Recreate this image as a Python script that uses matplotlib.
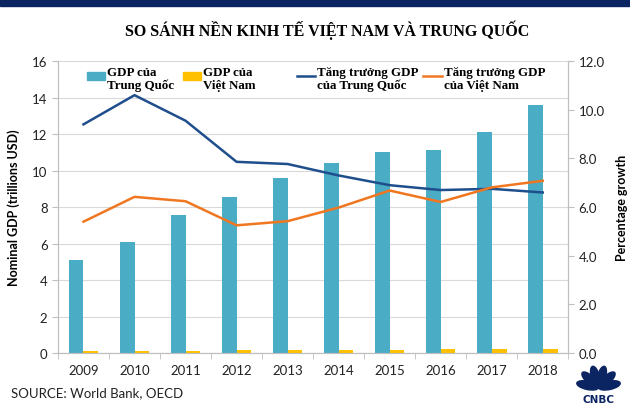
import matplotlib

matplotlib.use("Agg")
import matplotlib.pyplot as plt
import numpy as np
from matplotlib.patches import Rectangle, Ellipse
from matplotlib.lines import Line2D

YEARS = ["2009", "2010", "2011", "2012", "2013", "2014", "2015", "2016", "2017", "2018"]
GDP_CHINA = [5.1, 6.09, 7.55, 8.53, 9.57, 10.44, 11.02, 11.14, 12.14, 13.61]
GDP_VIETNAM = [0.106, 0.116, 0.135, 0.156, 0.171, 0.186, 0.193, 0.205, 0.224, 0.245]
GROWTH_CHINA = [9.4, 10.6, 9.55, 7.86, 7.77, 7.3, 6.9, 6.7, 6.75, 6.6]
GROWTH_VIETNAM = [5.4, 6.42, 6.24, 5.25, 5.42, 5.98, 6.68, 6.21, 6.81, 7.08]

C_CHINA_BAR = "#4BACC6"
C_VN_BAR = "#FFC000"
C_CHINA_LINE = "#1F4E8C"
C_VN_LINE = "#F07620"
NAVY = "#0B2462"
SERIF = "Liberation Serif"
SANS = ["Lato", "DejaVu Sans"]

fig = plt.figure(figsize=(6.3, 4.06), dpi=100)
fig.patches.append(Rectangle((0, 0.982), 1, 0.018, transform=fig.transFigure, color=NAVY, zorder=0))
fig.text(0.519, 0.925, "SO SÁNH NỀN KINH TẾ VIỆT NAM VÀ TRUNG QUỐC", family=SERIF,
         weight="bold", fontsize=11.5, ha="center", va="center")

ax = fig.add_axes([0.092, 0.128, 0.810, 0.719])
ax2 = ax.twinx()
ax.set_zorder(1)
ax2.set_zorder(2)
ax.patch.set_visible(False)

x = np.arange(len(YEARS))
w = 0.29
ax.bar(x - w, GDP_CHINA, width=w, align="edge", color=C_CHINA_BAR, zorder=3)
ax.bar(x, GDP_VIETNAM, width=w, align="edge", color=C_VN_BAR, zorder=3)
ax.set_xlim(-0.5, len(YEARS) - 0.5)
ax.set_ylim(0, 16)
ax.set_yticks(range(0, 17, 2))
ax.grid(axis="y", color="#D9D9D9", linewidth=0.8, zorder=0)
ax.set_xticks(x)
ax.set_xticklabels(YEARS)
ax.set_xticks(np.arange(-0.5, len(YEARS)), minor=True)
ax.tick_params(axis="x", which="major", length=0, pad=8)
ax.tick_params(axis="x", which="minor", length=4, color="#BFBFBF")
ax.tick_params(axis="y", length=4, color="#BFBFBF")

ax2.plot(x, GROWTH_CHINA, color=C_CHINA_LINE, linewidth=1.8)
ax2.plot(x, GROWTH_VIETNAM, color=C_VN_LINE, linewidth=1.8)
ax2.set_ylim(0, 12)
ax2.set_yticks(range(0, 13, 2))
ax2.set_yticklabels([f"{v:.1f}" for v in range(0, 13, 2)])
ax2.tick_params(axis="y", length=4, color="#BFBFBF")

for a in (ax, ax2):
    a.spines["top"].set_visible(False)
    for s in ("left", "right", "bottom"):
        a.spines[s].set_color("#BFBFBF")
    for lab in a.get_xticklabels() + a.get_yticklabels():
        lab.set_family(SANS)
        lab.set_fontsize(9.5)
        lab.set_color("#222222")

ax.set_ylabel("Nominal GDP (trillions USD)", family=SANS, weight="bold", fontsize=9, labelpad=9)
ax2.set_ylabel("Percentage growth", family=SANS, weight="bold", fontsize=9, labelpad=8)

# manual legend across the top
T = ax.transAxes
y_mark = 0.949
leg_font = dict(family=SERIF, weight="bold", fontsize=9.4, transform=T, va="center", zorder=6)
ax.add_patch(Rectangle((0.057, y_mark - 0.014), 0.036, 0.028, transform=T, color=C_CHINA_BAR, zorder=6))
ax.text(0.096, 0.94, "GDP của\nTrung Quốc", linespacing=1.1, **leg_font)
ax.add_patch(Rectangle((0.245, y_mark - 0.014), 0.036, 0.028, transform=T, color=C_VN_BAR, zorder=6))
ax.text(0.284, 0.94, "GDP của\nViệt Nam", linespacing=1.1, **leg_font)
ax.add_line(Line2D([0.469, 0.503], [y_mark, y_mark], transform=T, color=C_CHINA_LINE, linewidth=1.8, zorder=6))
ax.text(0.507, 0.94, "Tăng trưởng GDP\ncủa Trung Quốc", linespacing=1.1, **leg_font)
ax.add_line(Line2D([0.716, 0.753], [y_mark, y_mark], transform=T, color=C_VN_LINE, linewidth=1.8, zorder=6))
ax.text(0.757, 0.94, "Tăng trưởng GDP\ncủa Việt Nam", linespacing=1.1, **leg_font)

fig.text(0.018, 0.032, "SOURCE: World Bank, OECD", family=SANS, fontsize=9.5, color="#222222",
         va="center")

# simple CNBC peacock mark
logo = fig.add_axes([0.905, 0.004, 0.09, 0.1])
logo.set_xlim(-1.2, 1.2)
logo.set_ylim(-0.95, 1.25)
logo.set_aspect("equal")
logo.axis("off")
for ang in np.linspace(12, 168, 6):
    r = np.radians(ang)
    logo.add_patch(Ellipse((0.6 * np.cos(r), 0.6 * np.sin(r) - 0.1), 0.45, 1.2,
                           angle=ang - 90, color=NAVY))
logo.text(0, -0.7, "CNBC", ha="center", va="center", family="DejaVu Sans", weight="heavy",
          fontsize=7.5, color=NAVY)

fig.savefig("out.png", dpi=100)
